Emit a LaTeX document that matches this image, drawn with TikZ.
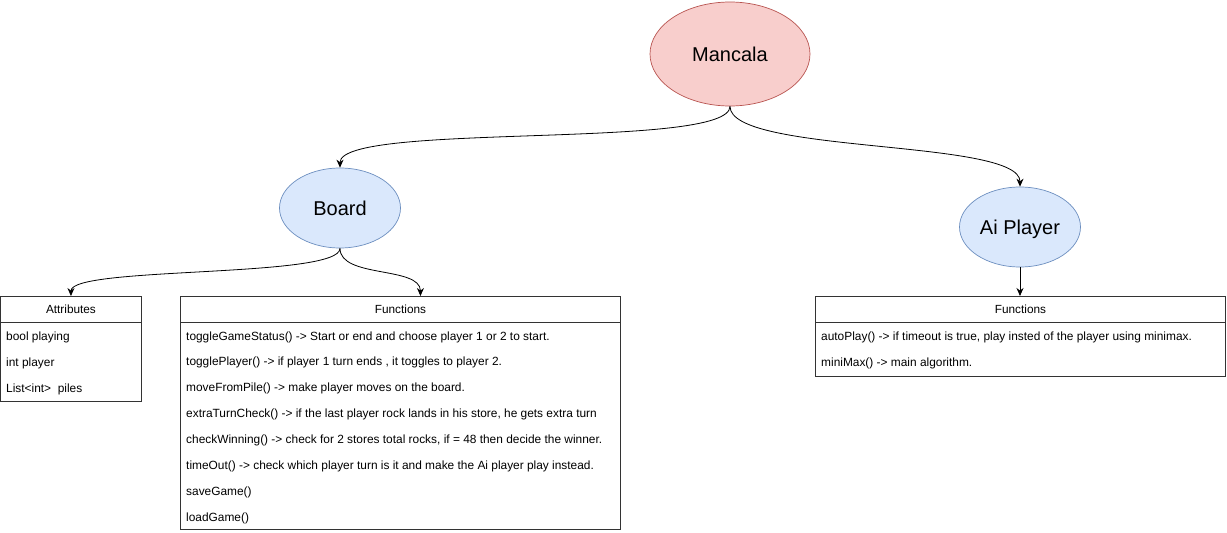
\documentclass[tikz,border=0pt]{standalone}
\usepackage{fontspec}
\setmainfont{Liberation Sans}
\usetikzlibrary{arrows.meta}
\usetikzlibrary{shapes.geometric}
\definecolor{redfill}{HTML}{F8CECC}
\definecolor{redline}{HTML}{B85450}
\definecolor{bluefill}{HTML}{DAE8FC}
\definecolor{blueline}{HTML}{6C8EBF}
\definecolor{boxline}{HTML}{333333}

\tikzset{
	ball/.style={ellipse, inner sep=0pt, line width=0.7pt, text height=14pt, text depth=0pt, font=\fontsize{20}{24}\selectfont},
	redball/.style={ball, draw=redline, fill=redfill, minimum width=160pt, minimum height=104pt},
	blueball/.style={ball, draw=blueline, fill=bluefill, minimum width=121pt, minimum height=80pt},
	classbox/.style={draw=boxline, line width=0.9pt, anchor=north west, inner sep=0pt},
	headrow/.style={classbox, font=\fontsize{11.8}{14}\selectfont},
	row/.style={anchor=west, inner sep=0pt, font=\fontsize{11.9}{14}\selectfont},
	link/.style={->, line width=0.8pt}
}

\begin{document}
\begin{tikzpicture}[x=1pt, y=-1pt, >={Stealth[length=8pt,width=7pt]}]
	\useasboundingbox (0,0) rectangle (1227,533);
	%ellipses
	\node[redball] (mancala) at (730,54) {Mancala};
	\node[blueball] (board) at (340,208) {Board};
	\node[blueball] (aiplayer) at (1020,227) {Ai Player};
	%Attributes box
	\node[classbox, minimum width=141pt, minimum height=105pt] (attr) at (0,296) {};
	\node[headrow, minimum width=141pt, minimum height=26pt] (attrhead) at (0,296) {Attributes};
	\foreach \txt [count=\i] in {bool playing, int player, List<int>\ \ piles}
		\node[row] (attr\i) at (6,{337+26*(\i-1)}) {\txt};
	%Functions box (Board)
	\node[classbox, minimum width=440pt, minimum height=233pt] (boardfn) at (180,296) {};
	\node[headrow, minimum width=440pt, minimum height=26pt] (boardfnhead) at (180,296) {Functions};
	\foreach \txt [count=\i] in {
			{toggleGameStatus() -> Start or end and choose player 1 or 2 to start.},
			{togglePlayer() -> if player 1 turn ends , it toggles to player 2.},
			{moveFromPile() -> make player moves on the board.},
			{extraTurnCheck() -> if the last player rock lands in his store, he gets extra turn},
			{checkWinning() -> check for 2 stores total rocks, if = 48 then decide the winner.},
			{timeOut() -> check which player turn is it and make the Ai player play instead.},
			{saveGame()},
			{loadGame()}}
		\node[row] (boardfn\i) at (186,{337+25.9*(\i-1)}) {\txt};
	%Functions box (Ai Player)
	\node[classbox, minimum width=410pt, minimum height=80pt] (aifn) at (815,296) {};
	\node[headrow, minimum width=410pt, minimum height=26pt] (aifnhead) at (815,296) {Functions};
	\node[row] (aifn1) at (821,337) {autoPlay() -> if timeout is true, play insted of the player using minimax.};
	\node[row] (aifn2) at (821,363) {miniMax() -> main algorithm.};
	%links
	\draw[link] (mancala.south) .. controls +(0,44) and +(0,-46) .. (board.north);
	\draw[link] (mancala.south) .. controls +(0,48) and +(0,-48) .. (aiplayer.north);
	\draw[link] (board.south) .. controls +(0,30) and +(0,-30) .. (attr.north);
	\draw[link] (board.south) .. controls +(0,30) and +(0,-30) .. ([xshift=20pt]boardfn.north);
	\draw[link] (aiplayer.south) -- (aiplayer.south |- aifn.north);
\end{tikzpicture}
\end{document}
